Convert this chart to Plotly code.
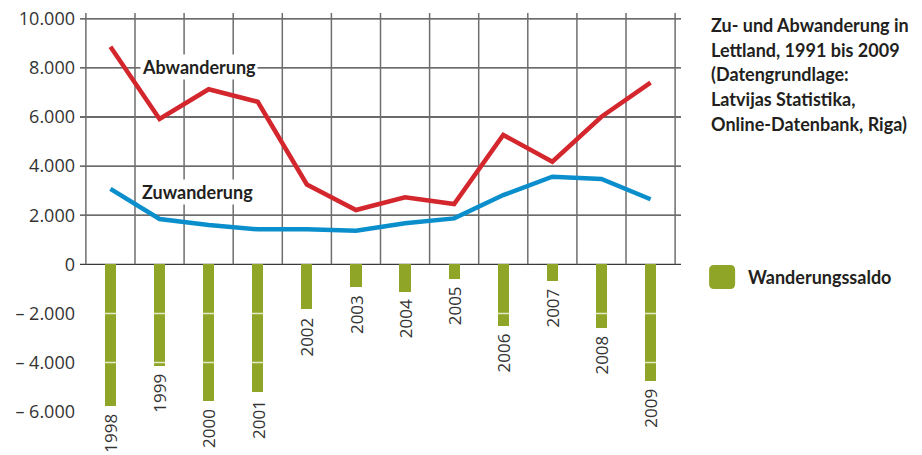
import plotly.graph_objects as go

years = ["1998", "1999", "2000", "2001", "2002", "2003", "2004", "2005", "2006", "2007", "2008", "2009"]
abwanderung = [8860, 5920, 7130, 6620, 3250, 2210, 2730, 2455, 5270, 4180, 6010, 7400]
zuwanderung = [3070, 1845, 1600, 1425, 1425, 1370, 1670, 1870, 2820, 3570, 3475, 2650]
saldo = [-5760, -4130, -5560, -5190, -1830, -910, -1115, -585, -2500, -670, -2580, -4740]
ytick_vals = [-6000, -4000, -2000, 0, 2000, 4000, 6000, 8000, 10000]
ytick_text = ["– 6.000", "– 4.000", "– 2.000", "0", "2.000", "4.000", "6.000", "8.000", "10.000"]
grid_y = [0, 2000, 4000, 6000, 8000, 10000]
title_lines = ["Zu- und Abwanderung in", "Lettland, 1991 bis 2009", "(Datengrundlage:",
               "Latvijas Statistika,", "Online-Datenbank, Riga)"]

RED = "#d4262d"
BLUE = "#0a8fcc"
GREEN = "#8fa527"
TXT = "#231f20"

x = list(range(len(years)))
X0, X1 = -0.62, len(years) - 1 + 0.62
Y0, Y1 = -7157, 10236

W, H = 922, 455
ml, pw = 80.1, 600.8
mr = W - ml - pw
mt = 13
ph = 440 - 13
mb = H - mt - ph


def sx(px):
    return (px - ml) / pw


def sy(py):
    return (mt + ph - py) / ph


fig = go.Figure()

fig.add_trace(go.Bar(x=x, y=saldo, marker=dict(color=GREEN, line=dict(width=0)),
                     width=0.23, name="Wanderungssaldo", showlegend=False, hoverinfo="skip"))
fig.add_trace(go.Scatter(x=x, y=zuwanderung, mode="lines", hoverinfo="skip",
                         line=dict(color=BLUE, width=4.5), showlegend=False))
fig.add_trace(go.Scatter(x=x, y=abwanderung, mode="lines", hoverinfo="skip",
                         line=dict(color=RED, width=4.5), showlegend=False))

shapes = []
for gy in grid_y:
    shapes.append(dict(type="line", xref="x", yref="y", x0=X0, x1=X1, y0=gy, y1=gy,
                       line=dict(color="#3a3a3a", width=1.3), layer="below"))
for i in range(len(years) + 1):
    xv = i - 0.5
    shapes.append(dict(type="line", xref="x", yref="y", x0=xv, x1=xv, y0=0, y1=Y1,
                       line=dict(color="#6e6e6e", width=1.5), layer="below"))
for gy in [-2000, -4000, -6000]:
    shapes.append(dict(type="line", xref="x", yref="y", x0=X0, x1=X1, y0=gy, y1=gy,
                       line=dict(color="rgba(255,255,255,0.75)", width=1.5), layer="above"))

lx0, lx1, ly0, ly1, r = 709, 735, 265, 289, 5
path = (f"M {sx(lx0 + r)} {sy(ly0)} L {sx(lx1 - r)} {sy(ly0)} "
        f"Q {sx(lx1)} {sy(ly0)} {sx(lx1)} {sy(ly0 + r)} L {sx(lx1)} {sy(ly1 - r)} "
        f"Q {sx(lx1)} {sy(ly1)} {sx(lx1 - r)} {sy(ly1)} L {sx(lx0 + r)} {sy(ly1)} "
        f"Q {sx(lx0)} {sy(ly1)} {sx(lx0)} {sy(ly1 - r)} L {sx(lx0)} {sy(ly0 + r)} "
        f"Q {sx(lx0)} {sy(ly0)} {sx(lx0 + r)} {sy(ly0)} Z")
shapes.append(dict(type="path", xref="paper", yref="paper", path=path,
                   fillcolor=GREEN, line=dict(width=0)))

annotations = []
for xi, yr, v in zip(x, years, saldo):
    annotations.append(dict(x=xi, y=v, xref="x", yref="y", text=yr, showarrow=False,
                            textangle=-90, xanchor="center", yanchor="top", yshift=-6,
                            font=dict(family="Open Sans", size=17, color="#333333")))
annotations.append(dict(x=1.81, y=8040, xref="x", yref="y", text="<b>Abwanderung</b>",
                        showarrow=False, bgcolor="white", borderpad=1,
                        font=dict(family="Lato", size=18, color=TXT)))
annotations.append(dict(x=1.78, y=2930, xref="x", yref="y", text="<b>Zuwanderung</b>",
                        showarrow=False, bgcolor="white", borderpad=1,
                        font=dict(family="Lato", size=18, color=TXT)))
for k, line in enumerate(title_lines):
    annotations.append(dict(x=sx(709), y=sy(25 + 24.7 * k), xref="paper", yref="paper",
                            text="<b>" + line + "</b>", showarrow=False, align="left",
                            xanchor="left", yanchor="middle",
                            font=dict(family="Lato", size=18, color=TXT)))
annotations.append(dict(x=sx(746), y=sy(277), xref="paper", yref="paper",
                        text="<b>Wanderungssaldo</b>", showarrow=False,
                        xanchor="left", yanchor="middle",
                        font=dict(family="Lato", size=18, color=TXT)))

fig.update_layout(
    width=W, height=H,
    margin=dict(l=ml, r=mr, t=mt, b=mb, pad=0, autoexpand=False),
    paper_bgcolor="white", plot_bgcolor="white",
    hovermode=False,
    xaxis=dict(range=[X0, X1], showgrid=False, zeroline=False, showticklabels=False,
               showline=False, fixedrange=True, automargin=False),
    yaxis=dict(range=[Y0, Y1], showgrid=False, zeroline=False, showline=False,
               tickvals=ytick_vals, ticktext=ytick_text, ticks="", automargin=False,
               ticklabelstandoff=4, ticklabeloverflow="allow", fixedrange=True,
               tickfont=dict(family="Open Sans", size=18, color="#333333")),
    shapes=shapes, annotations=annotations, bargap=0,
)

fig.write_html("out.html", config={"displayModeBar": False, "staticPlot": True},
               post_script="document.body.style.margin='0';")
